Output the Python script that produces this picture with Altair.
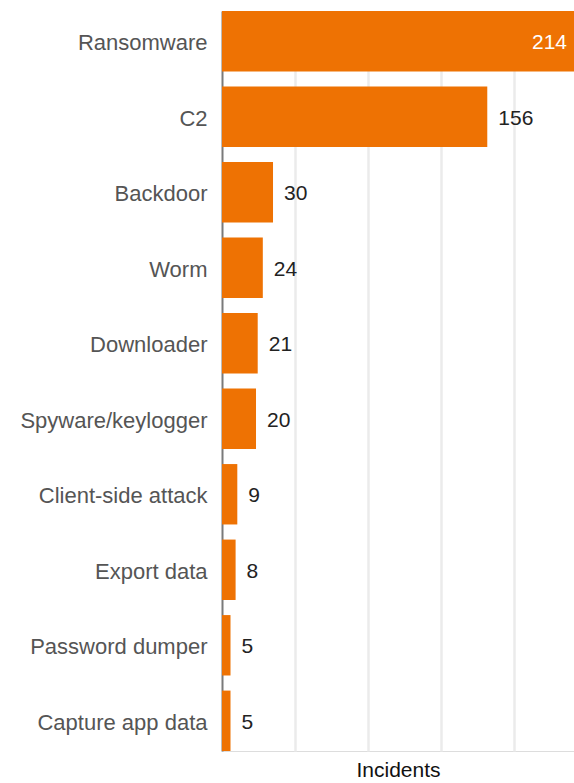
import altair as alt
import pandas as pd

categories = ["Ransomware", "C2", "Backdoor", "Worm", "Downloader",
              "Spyware/keylogger", "Client-side attack", "Export data",
              "Password dumper", "Capture app data"]
incidents = [214, 156, 30, 24, 21, 20, 9, 8, 5, 5]
grid_values = [43, 86, 129, 172]
x_max = 207

df = pd.DataFrame({"category": categories, "incidents": incidents})

FONT = "Liberation Sans"
ORANGE = "#ee7203"

base = alt.Chart(df).encode(
    y=alt.Y("category:N", sort=categories,
            scale=alt.Scale(paddingInner=0.2, paddingOuter=0),
            axis=alt.Axis(title=None, ticks=False, labelPadding=15, labelOffset=2,
                          labelFontSize=22, labelColor="#555555", labelFont=FONT,
                          labelLimit=400,
                          domainColor="#7a7a7a", domainWidth=2, grid=False))
)

xscale = alt.Scale(domain=[0, x_max], nice=False, zero=True)

bars = base.mark_bar(color=ORANGE, clip=True).encode(
    x=alt.X("incidents:Q", scale=xscale,
            axis=alt.Axis(title="Incidents", values=grid_values, labels=False,
                          ticks=False, domain=False, grid=True,
                          gridColor="#ebebeb", gridWidth=2.5,
                          titleFont=FONT, titleFontSize=21, titleFontWeight="normal",
                          titleColor="#111111", titleBaseline="alphabetic",
                          titlePadding=25))
)

outside = base.transform_filter(alt.datum.incidents <= x_max).mark_text(
    align="left", baseline="middle", dx=11, dy=2, fontSize=21, font=FONT, color="#222222"
).encode(x=alt.X("incidents:Q", scale=xscale), text="incidents:Q")

inside = base.transform_filter(alt.datum.incidents > x_max).transform_calculate(
    xpos=f"min(datum.incidents, {x_max})"
).mark_text(
    align="right", baseline="middle", dx=-7, dy=2, fontSize=21, font=FONT, color="white"
).encode(x=alt.X("xpos:Q", scale=xscale), text="incidents:Q")

chart = alt.layer(bars, outside, inside).properties(
    width=352, height=740,
    padding={"left": 222, "top": 11, "right": 0, "bottom": 32},
    autosize=alt.AutoSizeParams(type="none"),
).configure_view(stroke=None).configure(background="white")

chart.save("out.html", embed_options={"renderer": "svg", "actions": False})
